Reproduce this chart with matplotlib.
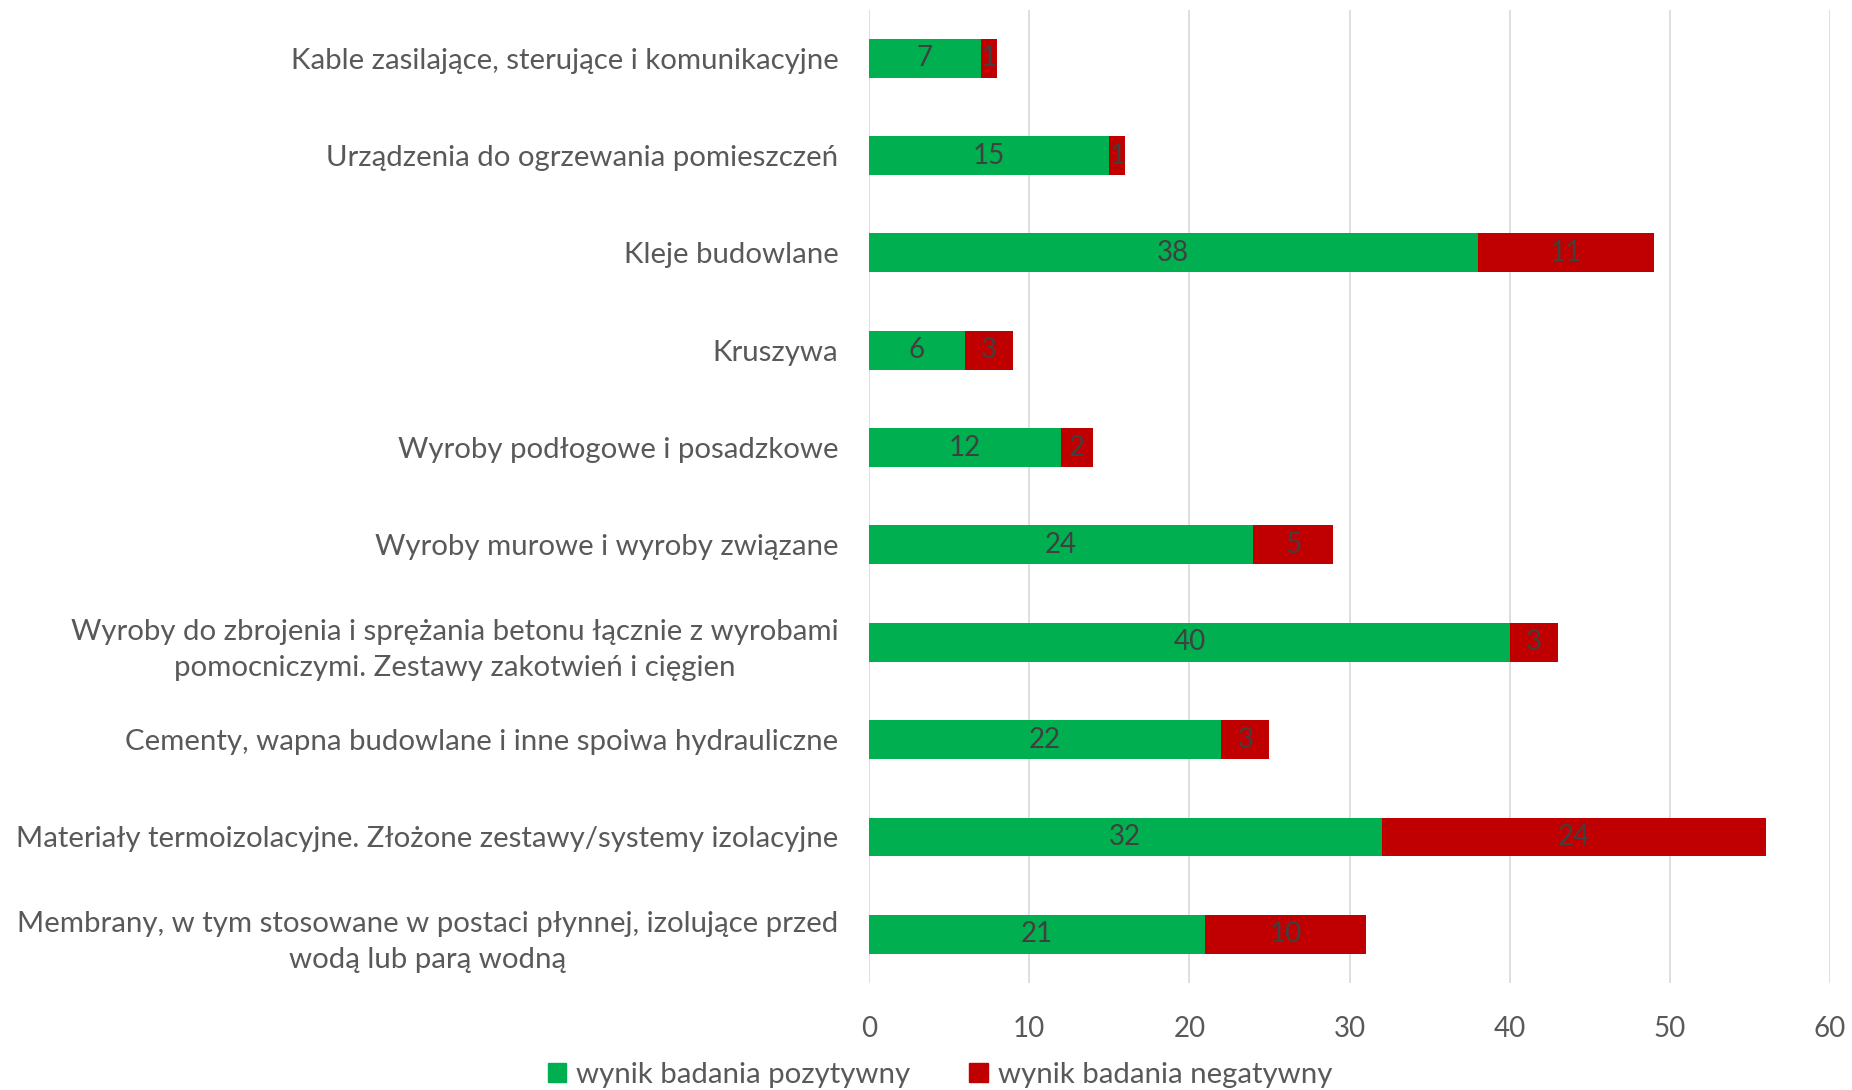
import matplotlib
matplotlib.use("Agg")
import matplotlib.pyplot as plt
from matplotlib.patches import Patch

# categories from top to bottom
categories = [
    "Kable zasilające, sterujące i komunikacyjne",
    "Urządzenia do ogrzewania pomieszczeń",
    "Kleje budowlane",
    "Kruszywa",
    "Wyroby podłogowe i posadzkowe",
    "Wyroby murowe i wyroby związane",
    "Wyroby do zbrojenia i sprężania betonu łącznie z wyrobami\npomocniczymi. Zestawy zakotwień i cięgien",
    "Cementy, wapna budowlane i inne spoiwa hydrauliczne",
    "Materiały termoizolacyjne. Złożone zestawy/systemy izolacyjne",
    "Membrany, w tym stosowane w postaci płynnej, izolujące przed\nwodą lub parą wodną",
]
positive = [7, 15, 38, 6, 12, 24, 40, 22, 32, 21]
negative = [1, 1, 11, 3, 2, 5, 3, 3, 24, 10]
series_names = ["wynik badania pozytywny", "wynik badania negatywny"]
xticks = [0, 10, 20, 30, 40, 50, 60]

green = "#00B050"
red = "#C00000"
label_col = "#595959"
value_col = "#404040"
fs = 20      # ticks and values
fs_cat = 21.2  # category labels and legend

plt.rcParams["font.family"] = ["Lato", "DejaVu Sans"]

fig = plt.figure(figsize=(18.52, 10.90), dpi=100)
ax = fig.add_axes([869 / 1852, 1 - 983 / 1090, 961 / 1852, 973.5 / 1090])

pos = list(range(len(categories)))
bars1 = ax.barh(pos, positive, height=0.4, color=green, linewidth=0, zorder=2)
bars2 = ax.barh(pos, negative, left=positive, height=0.4, color=red, linewidth=0, zorder=2)

ax.bar_label(bars1, labels=[str(v) for v in positive], label_type="center",
             fontsize=fs, color=value_col)
ax.bar_label(bars2, labels=[str(v) for v in negative], label_type="center",
             fontsize=fs, color=value_col)

ax.set_xlim(0, 60)
ax.set_ylim(len(categories) - 0.5, -0.5)
ax.set_xticks(xticks)
ax.set_yticks(pos)
ax.set_yticklabels(categories, fontsize=fs_cat)
ax.tick_params(axis="both", length=0, labelcolor=label_col)
ax.tick_params(axis="x", pad=24, labelsize=fs)
ax.tick_params(axis="y", pad=22)
for t in ax.get_yticklabels():
    t.set_multialignment("center")
    t.set_linespacing(1.5)

ax.grid(axis="x", color="#D9D9D9", linewidth=1.2, zorder=0)
ax.set_axisbelow(True)
for s in ax.spines.values():
    s.set_visible(False)

handles = [Patch(color=green), Patch(color=red)]
fig.legend(handles, series_names, loc="center", bbox_to_anchor=(940 / 1852, 1 - 1075 / 1090),
           ncol=2, frameon=False, fontsize=fs_cat, labelcolor=label_col,
           handlelength=0.62, handleheight=0.62, handletextpad=0.35,
           columnspacing=2.0, borderpad=0, borderaxespad=0)

fig.savefig("out.png", dpi=100)
